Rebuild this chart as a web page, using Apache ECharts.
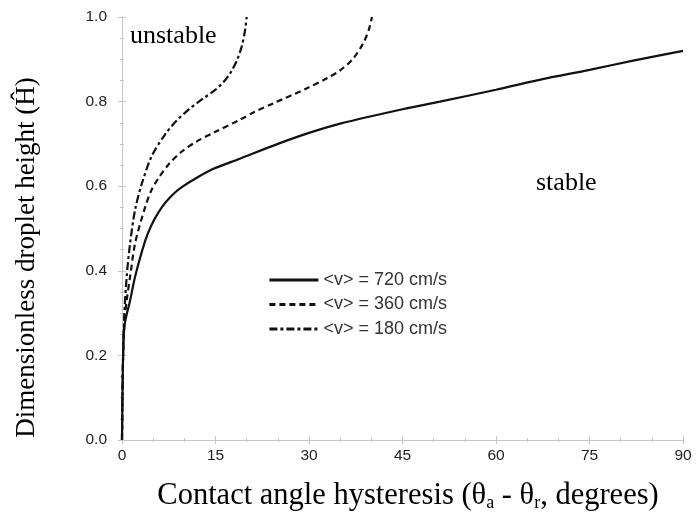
<!DOCTYPE html>
<html><head><meta charset="utf-8">
<script src="https://cdn.jsdelivr.net/npm/echarts@6/dist/echarts.min.js"></script>
<style>html,body{margin:0;padding:0;background:#fff}#c{width:696px;height:518px}</style>
</head><body><div id="c"></div>
<script>
var seriesNames = ['<v> = 720 cm/s', '<v> = 360 cm/s', '<v> = 180 cm/s'];
var x720 = [0, 0.15, 0.4, 1.3, 2.1, 3.7, 4.7, 5.8, 7, 8.5, 9.6, 12, 14.5, 18.9, 25, 30, 35, 45, 51, 60, 67.5, 75, 82, 90];
var y720 = [0, 0.18, 0.27, 0.33, 0.386, 0.47, 0.507, 0.537, 0.562, 0.585, 0.598, 0.62, 0.64, 0.665, 0.7, 0.726, 0.748, 0.782, 0.80, 0.828, 0.853, 0.875, 0.897, 0.92];
var x360 = [0, 0.15, 0.4, 0.75, 1.3, 2.1, 3.7, 4.7, 5.8, 7.5, 9.6, 12, 14.9, 18.9, 21.3, 24.3, 29.6, 33, 35, 37, 38.7, 39.6, 40.1];
var y360 = [0, 0.18, 0.28, 0.33, 0.386, 0.465, 0.55, 0.59, 0.618, 0.652, 0.682, 0.706, 0.728, 0.757, 0.776, 0.796, 0.831, 0.856, 0.874, 0.9, 0.938, 0.97, 1.0];
var x180 = [0, 0.15, 0.35, 0.75, 1.3, 2.1, 3.2, 4.8, 6.9, 8.7, 10.6, 12.8, 14.9, 16.5, 17.6, 18.5, 19.2, 19.7, 20.0];
var y180 = [0, 0.18, 0.29, 0.386, 0.465, 0.544, 0.607, 0.672, 0.722, 0.754, 0.78, 0.805, 0.827, 0.85, 0.873, 0.9, 0.93, 0.965, 1.0];
var xTicks = [0, 15, 30, 45, 60, 75, 90];
var yTicks = [0.0, 0.2, 0.4, 0.6, 0.8, 1.0];

function pairs(xs, ys){ return xs.map(function(v,i){return [v, ys[i]];}); }

var chart = echarts.init(document.getElementById('c'));
var frameColor = '#c6c6c6';
var tickLabel = {fontFamily: 'Liberation Sans', fontSize: 15.5, color: '#222'};
function axisBase(){
  return {
    axisLine: {show: true, lineStyle: {color: frameColor, width: 1}},
    axisTick: {show: true, inside: true, length: 4, lineStyle: {color: frameColor}},
    minorTick: {show: true, length: 2, lineStyle: {color: frameColor}},
    splitLine: {show: false}
  };
}
var xb = axisBase(), xt = axisBase(), yl = axisBase(), yr = axisBase();
var option = {
  animation: false,
  backgroundColor: '#fff',
  grid: {left: 122, right: 13, top: 17, bottom: 78},
  legend: {
    left: 263, top: 266, orient: 'vertical', itemGap: 6.5, itemWidth: 49, itemHeight: 18,
    textStyle: {fontFamily: 'Liberation Sans', fontSize: 18, color: '#333'},
    itemStyle: {opacity: 0},
    lineStyle: {width: 2.8},
    data: seriesNames
  },
  xAxis: [
    Object.assign(xb, {type: 'value', min: 0, max: 90, interval: 15, position: 'bottom',
      minorTick: Object.assign(xb.minorTick, {splitNumber: 3}),
      axisLabel: Object.assign({margin: 8, formatter: function(v){return xTicks.indexOf(v) >= 0 ? String(v) : '';}}, tickLabel),
      name: '{t|Contact angle hysteresis (θ}{s|a}{t| - θ}{s|r}{t|, degrees)}',
      nameLocation: 'middle', nameGap: 40,
      nameTextStyle: {padding: [0, 0, 0, 11], rich: {t: {fontFamily: 'Liberation Serif', fontSize: 30.5, color: '#000'}, s: {fontFamily: 'Liberation Serif', fontSize: 18, color: '#000', verticalAlign: 'bottom', padding: [14, 0, 0, 0]}}}
    }),
    Object.assign(xt, {type: 'value', min: 0, max: 90, interval: 15, position: 'top',
      minorTick: Object.assign(xt.minorTick, {splitNumber: 3}), axisLabel: {show: false}})
  ],
  yAxis: [
    Object.assign(yl, {type: 'value', min: 0, max: 1, interval: 0.2, position: 'left',
      minorTick: Object.assign(yl.minorTick, {splitNumber: 4}),
      axisLabel: Object.assign({margin: 15, formatter: function(v){return v.toFixed(1);}}, tickLabel),
      name: 'Dimensionless droplet height (Ĥ)', nameLocation: 'middle', nameGap: 82, nameRotate: 90,
      nameTextStyle: {fontFamily: 'Liberation Serif', fontSize: 27, color: '#000', padding: [0, 58, 0, 0]}
    }),
    Object.assign(yr, {type: 'value', min: 0, max: 1, interval: 0.2, position: 'right',
      minorTick: Object.assign(yr.minorTick, {splitNumber: 4}), axisLabel: {show: false}})
  ],
  series: [
    {name: seriesNames[0], type: 'line', data: pairs(x720, y720), showSymbol: false, symbol: 'none', smooth: 0.3,
      lineStyle: {color: '#111', width: 2.2, type: 'solid'}, itemStyle: {color: '#111'}},
    {name: seriesNames[1], type: 'line', data: pairs(x360, y360), showSymbol: false, symbol: 'none', smooth: 0.3,
      lineStyle: {color: '#111', width: 2.2, type: [6, 4]}, itemStyle: {color: '#111'}},
    {name: seriesNames[2], type: 'line', data: pairs(x180, y180), showSymbol: false, symbol: 'none', smooth: 0.3,
      lineStyle: {color: '#111', width: 2.2, type: [8, 3, 3, 3]}, itemStyle: {color: '#111'}}
  ],
  graphic: [
    {type: 'text', x: 130, y: 36, style: {text: 'unstable', fontFamily: 'Liberation Serif', fontSize: 26, fill: '#000', verticalAlign: 'middle', align: 'left'}},
    {type: 'text', x: 536, y: 183, style: {text: 'stable', fontFamily: 'Liberation Serif', fontSize: 26, fill: '#000', verticalAlign: 'middle', align: 'left'}}
  ]
};
chart.setOption(option);
</script></body></html>
